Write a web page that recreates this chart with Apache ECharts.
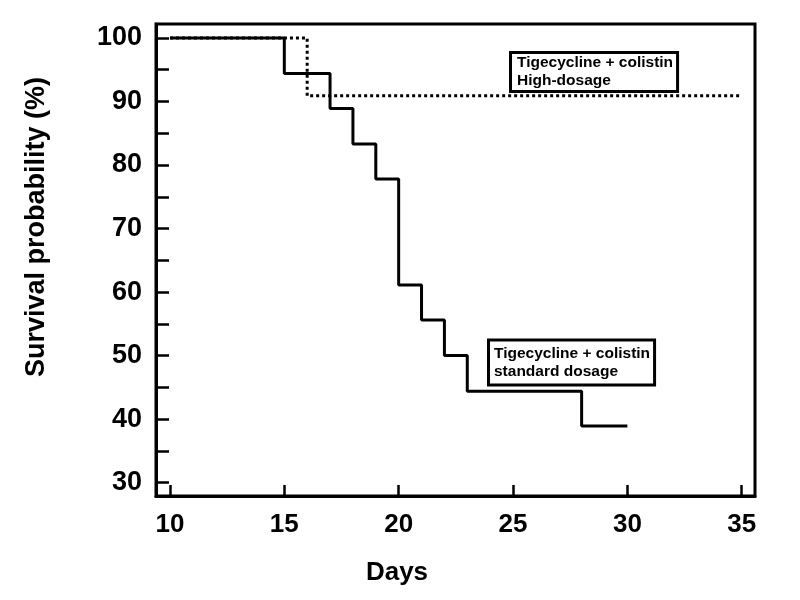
<!DOCTYPE html>
<html>
<head>
<meta charset="utf-8">
<script src="https://cdn.jsdelivr.net/npm/echarts@6/dist/echarts.min.js"></script>
<style>html,body{margin:0;padding:0;background:#fff;}#c{width:800px;height:600px;}</style>
</head>
<body>
<div id="c"></div>
<script>
// Standard dosage Kaplan-Meier curve: [day, survival %]
const standardDays = [10, 15, 17, 18, 19, 20, 21, 22, 23, 28, 30];
const standardSurvival = [100, 94.4, 88.9, 83.3, 77.8, 61.1, 55.6, 50, 44.4, 38.9, 38.9];
// High-dosage curve
const highDays = [10, 16, 35];
const highSurvival = [100, 90.9, 90.9];
// Tick labels
const xTicks = [10, 15, 20, 25, 30, 35];
const yMajorTicks = [30, 40, 50, 60, 70, 80, 90, 100];
const yAllTicks = [30, 35, 40, 45, 50, 55, 60, 65, 70, 75, 80, 85, 90, 95, 100];
const xTitle = 'Days';
const yTitle = 'Survival probability (%)';
const labelHigh = 'Tigecycline + colistin\nHigh-dosage';
const labelStandard = 'Tigecycline + colistin\nstandard dosage';

const FONT = '"Liberation Sans", Arial, sans-serif';
const chart = echarts.init(document.getElementById('c'), null, {renderer: 'canvas'});

const zip = (a, b) => a.map((v, i) => [v, b[i]]);

chart.setOption({
  backgroundColor: '#ffffff',
  animation: false,
  grid: {left: 156, right: 45, top: 24, bottom: 104, show: true, borderColor: '#000', borderWidth: 3, backgroundColor: 'transparent'},
  xAxis: {
    type: 'value', min: 9.39, max: 35.58,
    splitLine: {show: false},
    axisLine: {show: true, lineStyle: {color: '#000', width: 3}},
    axisTick: {show: true, inside: true, length: 11, lineStyle: {color: '#000', width: 2.5}, customValues: xTicks},
    axisLabel: {customValues: xTicks, color: '#000', fontFamily: FONT, fontWeight: 'bold', fontSize: 26, margin: 16}
  },
  yAxis: {
    type: 'value', min: 27.9, max: 102.2,
    splitLine: {show: false},
    axisLine: {show: true, lineStyle: {color: '#000', width: 3}},
    axisTick: {show: true, inside: true, length: 13, lineStyle: {color: '#000', width: 2.5}, customValues: yAllTicks},
    axisLabel: {customValues: yMajorTicks, color: '#000', fontFamily: FONT, fontWeight: 'bold', fontSize: 27, margin: 14}
  },
  series: [
    {
      name: 'High-dosage', type: 'line', step: 'end', showSymbol: false, symbol: 'none',
      data: zip(highDays, highSurvival),
      lineStyle: {color: '#000', width: 3, type: [3, 3]}, z: 2
    },
    {
      name: 'Standard dosage', type: 'line', step: 'end', showSymbol: false, symbol: 'none',
      data: zip(standardDays, standardSurvival),
      lineStyle: {color: '#000', width: 3, type: 'solid'}, z: 3
    }
  ],
  graphic: [
    {
      type: 'text', rotation: Math.PI / 2, x: 37, y: 227, z: 10,
      style: {text: yTitle, font: 'bold 27px ' + FONT, fill: '#000', align: 'center', verticalAlign: 'middle'}
    },
    {
      type: 'text', x: 397, y: 573, z: 10,
      style: {text: xTitle, font: 'bold 26px ' + FONT, fill: '#000', align: 'center', verticalAlign: 'middle'}
    },
    {
      type: 'text', x: 512, y: 54, z: 10,
      style: {text: labelHigh, font: 'bold 15.5px ' + FONT, fill: '#000', lineHeight: 18,
        backgroundColor: '#fff', borderColor: '#000', borderWidth: 3, padding: [0, 3, 0, 5]}
    },
    {
      type: 'text', x: 490, y: 341.5, z: 10,
      style: {text: labelStandard, font: 'bold 15.5px ' + FONT, fill: '#000', lineHeight: 18,
        backgroundColor: '#fff', borderColor: '#000', borderWidth: 3, padding: [3, 3, 3, 4]}
    }
  ]
});
</script>
</body>
</html>
